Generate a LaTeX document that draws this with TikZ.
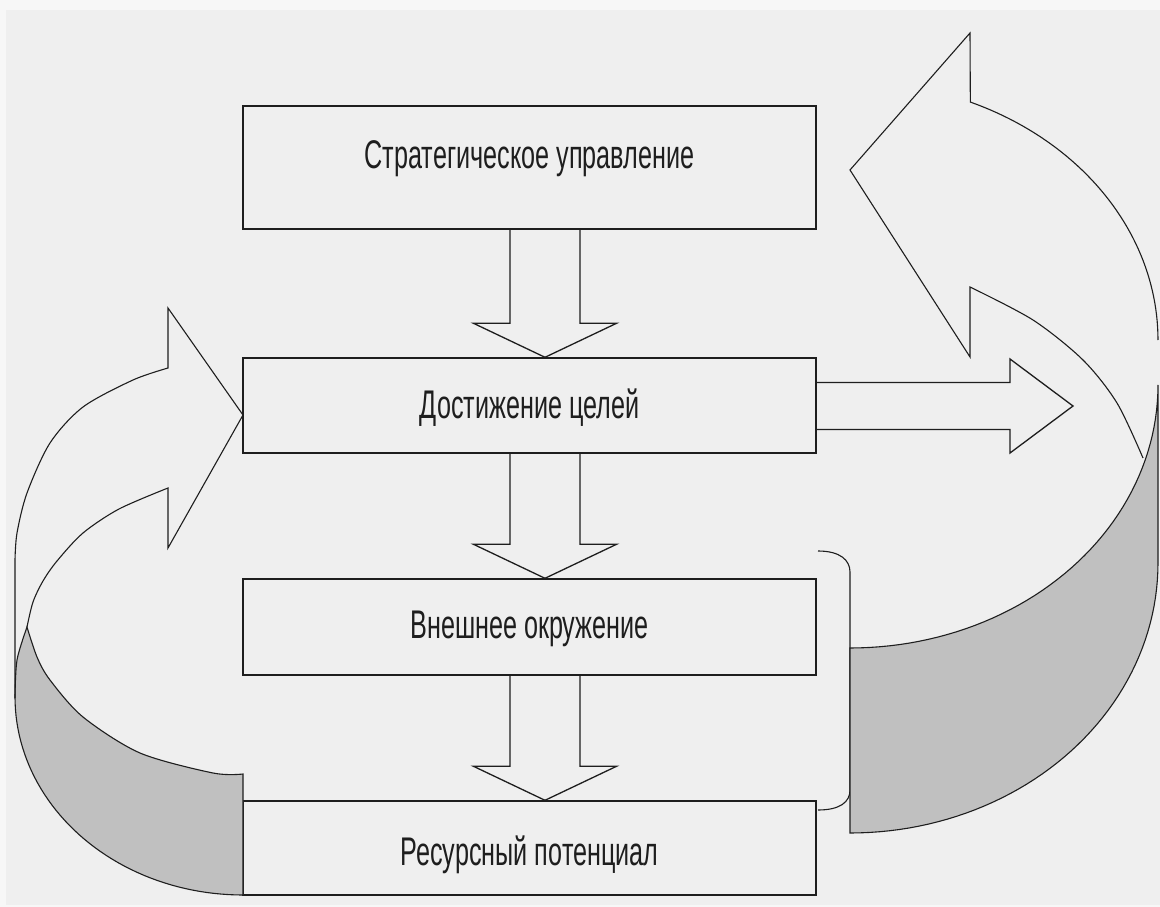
\documentclass[tikz,border=0pt]{standalone}
\usepackage{fontspec}
\newfontfamily\boxfont[FakeStretch=0.63]{Liberation Sans}
\usetikzlibrary{calc}
\definecolor{pagebg}{HTML}{F7F7F7}
\definecolor{canvas}{HTML}{EFEFEF}
\definecolor{ink}{HTML}{1E1E1E}
\definecolor{backside}{HTML}{C0C0C0}
\tikzset{
  stagebox/.style={draw=ink, line width=1.4pt, fill=canvas, minimum width=573pt, minimum height=#1, inner sep=0pt},
  stagetext/.style={font=\boxfont\fontsize{40}{48}\selectfont, text=ink, inner sep=0pt},
  blockarrow/.style={draw=ink, line width=1.3pt, line join=miter},
  ribbon/.style={draw=ink, line width=1.1pt},
  backface/.style={draw=ink, line width=1.1pt, fill=backside},
}
\begin{document}
\begin{tikzpicture}[x=1pt, y=-1pt]
  % page and canvas
  \fill[pagebg] (0,0) rectangle (1160,907);
  \fill[canvas] (6,10) rectangle (1160,905);
  \useasboundingbox (0,0) rectangle (1160,907);

  % stage boxes
  \node[stagebox=123pt] (b1) at (529.5,167.5) {};
  \node[stagebox=95pt]  (b2) at (529.5,405.5) {};
  \node[stagebox=96pt]  (b3) at (529.5,627) {};
  \node[stagebox=94pt]  (b4) at (529.5,848) {};

  \node[stagetext] (t1) at (529.5,159) {Стратегическое управление};
  \node[stagetext] (t2) at (529.5,408) {Достижение целей};
  \node[stagetext] (t3) at (529.5,629) {Внешнее окружение};
  \node[stagetext] (t4) at (529.5,855) {Ресурсный потенциал};

  % hollow block arrows between the stages
  \foreach \src/\dst in {b1/b2, b2/b3, b3/b4}{
    \draw[blockarrow] let \p1=([xshift=15.5pt]\src.south), \p2=([xshift=15.5pt]\dst.north) in
      (\x1-35pt,\y1) -- (\x1-35pt,\y2+34pt) -- (\x1-71.5pt,\y2+34pt) -- (\x1,\y2)
      -- (\x1+71.5pt,\y2+34pt) -- (\x1+35pt,\y2+34pt) -- (\x1+35pt,\y1);
  }

  % block arrow leaving the goals box to the right
  \coordinate (rtip) at (1073,406);
  \draw[blockarrow] let \p1=(b2.east), \p2=(rtip) in
    (\x1,\y2+23.5pt) -- (\x2-63pt,\y2+23.5pt) -- (\x2-63pt,\y2+47pt) -- (\x2,\y2)
    -- (\x2-63pt,\y2-47pt) -- (\x2-63pt,\y2-23.5pt) -- (\x1,\y2-23.5pt);

  % bracket beside the two lower boxes
  \draw[ribbon] (818,551) .. controls (840,551) and (850,560) .. (850,572)
    -- (850,790) .. controls (850,802) and (840,810) .. (818,810);

  % right curved ribbon: back face
  \draw[backface] (850,648) -- (850,833)
    -- plot[domain=90:0, samples=50] ({850+308*cos(\x)},{563+270*sin(\x)})
    -- (1158,385)
    -- plot[domain=0:90, samples=50] ({850+308*cos(\x)},{385+263*sin(\x)}) -- cycle;
  % right curved ribbon: front face with its head
  \draw[ribbon] plot[domain=0:-67, samples=50] ({850+308*cos(\x)},{340+258.5*sin(\x)})
    -- (970,33) -- (850,170) -- (970,357) -- (970,287)
    -- plot[smooth] coordinates {(970,287) (1033,320) (1083,360) (1117,403) (1143,458)};

  % left curved ribbon: back face
  \draw[backface] plot[smooth] coordinates {(27,627) (37,657) (50,680) (83,717) (140,753) (213,773) (243,774)}
    -- (243,895)
    -- plot[domain=90:180, samples=50] ({243+228*cos(\x)},{697+198*sin(\x)})
    -- plot[smooth] coordinates {(15,697) (17,660) (27,627)} -- cycle;
  % left curved ribbon: front face with its head
  \draw[ribbon] (15,698) -- (15,560)
    -- plot[smooth] coordinates {(15,560) (17,533) (27,493) (50,443) (83,407) (133,380) (168,368)}
    -- (168,308) -- (243,415) -- (168,548) -- (168,488)
    -- plot[smooth] coordinates {(168,488) (119,509) (83,533) (57,561) (43,581) (33,602) (27,627)};
\end{tikzpicture}
\end{document}
